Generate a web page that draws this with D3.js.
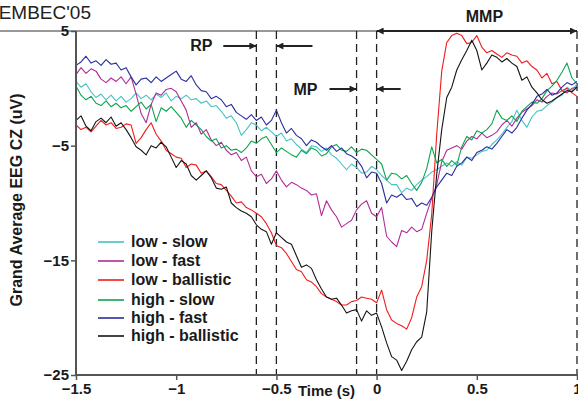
<!DOCTYPE html>
<html>
<head>
<meta charset="utf-8">
<script src="https://cdn.jsdelivr.net/npm/d3@7"></script>
<style>
  body { margin: 0; background: #fff; }
  svg { display: block; font-family: Arial, "Liberation Sans", sans-serif; }
  .lbl { font-weight: bold; font-size: 16px; fill: #1a1a1a; }
</style>
</head>
<body>
<div id="chart"></div>
<script>
// sample step of the averaged traces (s), starting at -1.5 s
var step = 0.025;
var tStart = -1.5;

var seriesNames = ["low - slow", "low - fast", "low - ballistic", "high - slow", "high - fast", "high - ballistic"];
var seriesColors = ["#45c3c3", "#b02c98", "#f01c1c", "#0ca44e", "#2a2f9e", "#151515"];

var xTicks = [-1.5, -1, -0.5, 0, 0.5, 1];
var yTicks = [5, -5, -15, -25];
var markerTimes = [-0.6, -0.5, -0.1, 0, 1];

// grand average values (uV), one every 25 ms from -1.5 s to 1 s
var lowSlow = [0.6, 0.1, 0.4, -0.3, -0.8, -0.5, -1.0, -0.6, -1.1, -0.7, -1.2, -0.9, -0.4, -0.9, -0.6, -1.0, -0.5, -0.8, -0.4, -1.1,
  -0.7, -0.9, -0.6, -1.0, -0.9, -1.3, -1.1, -1.6, -1.5, -2.0, -2.6, -2.4, -3.0, -4.1, -3.6, -3.0, -3.2, -3.7, -3.4, -3.8,
  -4.2, -3.9, -4.6, -4.4, -4.9, -5.3, -5.6, -5.0, -5.1, -5.5, -5.2, -5.8, -6.1, -6.6, -7.1, -6.6, -6.9, -7.4, -7.3, -6.8,
  -7.1, -7.6, -8.0, -8.4, -8.4, -9.1, -8.7, -8.9, -8.4, -8.0, -7.7, -7.3, -7.1, -6.8, -6.5, -6.8, -6.4, -6.7, -6.0, -6.1,
  -5.8, -5.5, -5.4, -4.9, -4.5, -4.0, -3.4, -2.9, -1.9, -2.8, -3.4, -2.5, -2.0, -1.9, -1.5, -1.2, -0.8, -0.6, 0.1, -0.2, 0.4];

var lowFast = [1.2, 1.8, 1.3, 1.7, 1.5, 0.8, 0.5, 0.9, 0.6, 1.0, 0.4, 1.0, -0.5, -2.2, -3.0, -1.4, -0.4, -0.6, -0.1, 0.0,
  -0.3, -1.1, -1.9, -3.4, -3.0, -4.0, -3.6, -4.5, -5.0, -4.7, -5.4, -5.8, -5.6, -6.3, -6.0, -7.2, -7.7, -7.5, -8.3, -7.9,
  -7.2, -8.0, -8.6, -8.2, -8.4, -8.7, -8.9, -9.3, -9.2, -11.1, -9.8, -10.6, -11.2, -12.1, -11.8, -11.5, -10.6, -10.1, -9.8, -10.9,
  -11.2, -10.4, -12.9, -13.4, -13.8, -12.4, -12.6, -12.1, -12.5, -12.3, -10.9, -9.6, -8.4, -6.4, -5.4, -5.2, -5.0, -5.3, -4.6, -4.2,
  -4.4, -3.9, -4.3, -4.1, -3.8, -3.2, -2.8, -3.3, -2.6, -2.1, -1.8, -1.5, -1.0, -1.2, -0.7, -0.4, -0.5, -0.2, -0.4, 0.0, 0.1];

var lowBallistic = [-3.2, -3.6, -3.4, -3.8, -3.3, -2.8, -3.2, -3.0, -3.5, -3.4, -3.1, -3.2, -4.8, -4.3, -3.6, -3.0, -4.0, -4.6, -5.4, -5.7,
  -6.0, -6.1, -6.9, -6.6, -6.7, -7.4, -7.2, -7.7, -8.3, -8.4, -8.9, -9.4, -10.0, -9.9, -10.4, -10.6, -10.9, -11.2, -11.8, -12.6,
  -13.7, -13.9, -14.4, -15.1, -15.8, -16.0, -16.7, -16.9, -17.3, -17.9, -18.2, -18.4, -18.6, -18.9, -18.9, -18.6, -18.5, -18.2, -18.3, -18.4,
  -18.7, -17.6, -19.3, -20.2, -20.5, -20.7, -21.0, -20.0, -18.2, -17.3, -15.0, -11.0, -4.0, 1.5, 4.0, 4.6, 4.8, 4.6, 3.9, 4.0,
  4.6, 3.6, 3.1, 3.3, 3.0, 2.7, 3.1, 2.9, 2.8, 2.2, 2.4, 1.9, 1.6, 0.9, 1.3, 0.4, 0.6, -0.2, 0.0, -0.4, -0.7];

var highSlow = [0.2, -0.6, -1.0, -0.7, -1.3, -1.5, -1.1, -1.6, -1.3, -1.7, -1.5, -2.0, -1.6, -1.2, -1.8, -1.4, -2.9, -1.7, -2.0, -1.6,
  -2.1, -2.6, -3.4, -2.8, -3.2, -3.6, -4.2, -4.6, -4.4, -5.2, -5.0, -5.4, -5.3, -5.6, -5.2, -4.6, -4.8, -4.4, -4.2, -4.9,
  -5.6, -5.2, -5.5, -5.8, -6.0, -5.4, -5.7, -5.2, -5.4, -5.9, -5.7, -5.1, -4.9, -5.4, -5.5, -5.1, -5.6, -5.3, -5.4, -5.8,
  -6.2, -6.6, -8.0, -7.4, -7.5, -7.9, -7.6, -8.3, -8.9, -8.2, -7.0, -5.1, -6.5, -6.2, -6.8, -6.3, -6.7, -5.1, -4.2, -4.5,
  -3.7, -3.9, -3.6, -3.1, -1.9, -2.6, -2.8, -2.4, -2.9, -2.0, -1.6, -1.2, -1.3, -0.9, -0.2, 0.2, 0.7, 1.4, 2.2, 0.9, 0.4];

var highFast = [2.0, 2.3, 2.8, 2.2, 2.4, 2.0, 2.5, 2.1, 2.2, 1.6, 1.8, 1.0, 0.3, 0.8, 0.9, 0.5, 1.0, 0.6, 0.9, 1.2,
  1.5, 0.8, 0.6, 1.1, 0.3, -0.2, -0.3, -0.9, -0.7, -1.0, -1.6, -1.4, -2.1, -2.4, -2.7, -2.3, -2.8, -2.5, -3.2, -2.8,
  -1.9, -3.0, -3.9, -3.5, -4.1, -4.4, -5.0, -4.5, -4.7, -5.1, -5.4, -5.0, -5.5, -5.2, -5.7, -5.9, -6.2, -6.8, -7.8, -7.3,
  -7.4, -8.3, -10.0, -9.3, -9.5, -9.2, -9.7, -9.6, -10.3, -10.0, -10.2, -9.5, -8.6, -8.0, -7.4, -7.6, -6.8, -6.5, -6.0, -6.3,
  -5.6, -5.4, -5.1, -5.3, -4.8, -4.2, -3.6, -3.9, -3.4, -2.6, -1.9, -1.4, -0.7, -0.5, -0.1, -0.6, -0.4, 0.1, 0.5, 0.3, 0.6];

var highBallistic = [-2.8, -2.4, -3.3, -3.7, -2.9, -2.6, -3.0, -2.5, -3.3, -3.0, -3.6, -4.3, -5.1, -5.4, -5.8, -5.0, -5.2, -4.7, -5.1, -6.0,
  -6.9, -6.3, -6.6, -7.6, -8.0, -7.6, -7.2, -7.8, -8.7, -8.8, -8.6, -10.0, -10.4, -10.7, -10.9, -11.2, -11.9, -12.3, -12.5, -13.6,
  -12.6, -13.0, -13.4, -13.6, -14.6, -15.6, -15.4, -15.7, -16.7, -17.5, -18.2, -18.4, -18.3, -18.9, -19.6, -19.4, -19.3, -20.3, -19.4, -19.8,
  -19.6, -20.8, -22.2, -23.4, -23.7, -24.6, -23.8, -22.8, -22.1, -21.7, -19.5, -12.5, -7.5, -3.6, -0.8, 0.1, 1.6, 2.5, 3.3, 4.2,
  3.3, 1.6, 2.2, 2.9, 2.7, 2.3, 2.6, 2.2, 1.9, 0.7, 1.0, 0.1, -0.4, -1.0, -1.3, -1.1, -0.8, -0.5, -0.2, -0.3, 0.1];

var allSeries = [lowSlow, lowFast, lowBallistic, highSlow, highFast, highBallistic];

var W = 578, H = 400;
var margin = { top: 31, right: 1, bottom: 25, left: 76 };
var w = W - margin.left - margin.right;
var h = H - margin.top - margin.bottom;

function drawChart() {
  var svg = d3.select("#chart").append("svg")
    .attr("width", W)
    .attr("height", H);

  var x = d3.scaleLinear().domain([-1.5, 1]).range([0, w]);
  var y = d3.scaleLinear().domain([-25, 5]).range([h, 0]);

  // title, cut at the left edge like the source figure
  svg.append("text")
    .attr("x", 91).attr("y", 19)
    .attr("text-anchor", "end")
    .style("font-size", "19px")
    .style("fill", "#222")
    .text("EMBEC'05");

  // frame line along the top
  svg.append("line")
    .attr("x1", 0).attr("x2", margin.left + x(0))
    .attr("y1", margin.top).attr("y2", margin.top)
    .attr("stroke", "#333").attr("stroke-width", 1.2);

  var g = svg.append("g")
    .attr("transform", "translate(" + margin.left + "," + margin.top + ")");

  // dashed markers
  g.selectAll(".marker")
    .data(markerTimes)
    .enter().append("line")
    .attr("class", "marker")
    .attr("x1", function(d) { return x(d); })
    .attr("x2", function(d) { return x(d); })
    .attr("y1", 0).attr("y2", h)
    .attr("stroke", "#222")
    .attr("stroke-width", 1.3)
    .attr("stroke-dasharray", "8,5");

  // traces
  var line = d3.line()
    .x(function(d, i) { return x(tStart + i * step); })
    .y(function(d) { return y(d); });

  g.selectAll(".trace")
    .data(allSeries)
    .enter().append("path")
    .attr("class", "trace")
    .attr("d", line)
    .attr("fill", "none")
    .attr("stroke", function(d, i) { return seriesColors[i]; })
    .attr("stroke-width", 1.1)
    .attr("stroke-linejoin", "round");

  // axes
  var xAxis = d3.axisBottom(x).tickValues(xTicks).tickSize(5).tickFormat(d3.format("~g"));
  var yAxis = d3.axisLeft(y).tickValues(yTicks).tickSize(5).tickFormat(d3.format("~g"));

  var gx = g.append("g").attr("transform", "translate(0," + h + ")").call(xAxis);
  var gy = g.append("g").call(yAxis);

  [gx, gy].forEach(function(a) {
    a.select(".domain").attr("stroke", "#555").attr("stroke-width", 2);
    a.selectAll(".tick line").attr("stroke", "#555").attr("stroke-width", 1.5);
    a.selectAll(".tick text")
      .style("font-family", "Arial, 'Liberation Sans', sans-serif")
      .style("font-size", "15px")
      .style("font-weight", "bold")
      .attr("fill", "#1a1a1a");
  });
  gx.selectAll(".tick text").attr("y", 8);
  gy.selectAll(".tick text").attr("x", -7);
  gx.select(".domain").attr("d", "M0,0H" + (w + 1));
  gy.select(".domain").attr("d", "M0,0V" + h);

  // axis titles
  g.append("text")
    .attr("class", "lbl")
    .style("font-size", "15px")
    .attr("x", x(-0.25)).attr("y", h + 21)
    .attr("text-anchor", "middle")
    .text("Time (s)");

  g.append("text")
    .attr("class", "lbl")
    .attr("transform", "translate(" + (-54) + "," + (y(-10) - 3) + ") rotate(-90)")
    .attr("text-anchor", "middle")
    .text("Grand Average EEG CZ (uV)");

  // arrow heads
  var defs = svg.append("defs");
  defs.append("marker")
    .attr("id", "head")
    .attr("viewBox", "0 0 10 10")
    .attr("refX", 10).attr("refY", 5)
    .attr("markerWidth", 9).attr("markerHeight", 7)
    .attr("markerUnits", "userSpaceOnUse")
    .attr("orient", "auto-start-reverse")
    .append("path").attr("d", "M0,0L10,5L0,10z").attr("fill", "#222");

  function arrow(t1, t2, py, both) {
    g.append("line")
      .attr("x1", x(t1)).attr("x2", x(t2))
      .attr("y1", py).attr("y2", py)
      .attr("stroke", "#222").attr("stroke-width", 2)
      .attr("marker-end", "url(#head)")
      .attr("marker-start", both ? "url(#head)" : null);
  }

  // RP window
  g.append("text").attr("class", "lbl").attr("x", x(-0.93)).attr("y", 20).text("RP");
  arrow(-0.765, -0.6, 15);
  arrow(-0.32, -0.5, 15);

  // MP window
  g.append("text").attr("class", "lbl").attr("x", x(-0.415)).attr("y", 64).text("MP");
  arrow(-0.235, -0.1, 58);
  arrow(0.12, 0, 58);

  // MMP window
  g.append("text").attr("class", "lbl").attr("x", x(0.445)).attr("y", -9).text("MMP");
  arrow(0, 1, 0, true);

  // legend
  var legend = g.append("g").attr("transform", "translate(22," + (y(-13.4)) + ")");
  var rowY = [0, 19, 38, 58, 76, 94];
  var item = legend.selectAll(".item")
    .data(seriesNames)
    .enter().append("g")
    .attr("class", "item")
    .attr("transform", function(d, i) { return "translate(0," + rowY[i] + ")"; });
  item.append("line")
    .attr("x1", 0).attr("x2", 26)
    .attr("stroke", function(d, i) { return seriesColors[i]; })
    .attr("stroke-width", 2)
    .attr("opacity", 0.8);
  item.append("text")
    .attr("class", "lbl")
    .attr("x", 33).attr("y", 5)
    .text(function(d) { return d; });
}

window.onload = function() {
  drawChart();
};
</script>
</body>
</html>
